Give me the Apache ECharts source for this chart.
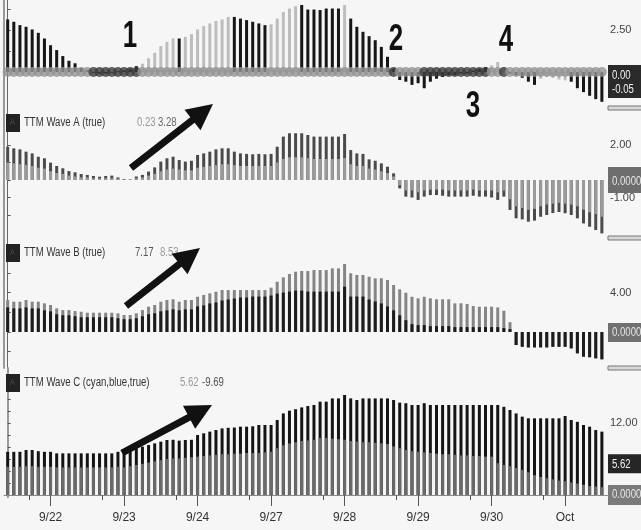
<!DOCTYPE html>
<html><head><meta charset="utf-8">
<script src="https://cdn.jsdelivr.net/npm/echarts@6/dist/echarts.min.js"></script>
<style>html,body{margin:0;padding:0;background:#f6f6f6}#c{width:641px;height:530px}</style>
</head><body><div id="c"></div><script>
// ---------- data ----------
const dayStartBars = [7, 19, 31, 43, 55, 67, 79, 91];
const dayLabels = ['9/22', '9/23', '9/24', '9/27', '9/28', '9/29', '9/30', 'Oct'];
const sessionMinorBars = [3.5, 15.5, 27.5, 39.5, 51.5, 63.5, 75.5, 87.5];

// Squeeze panel: momentum histogram, shade (1 = dark, 0 = light), squeeze dots (1 = squeeze on)
const squeezeMom = [3.14,3.0,2.8,2.7,2.54,2.34,2.0,1.6,1.31,0.95,
  0.67,0.52,0.25,0.1,-0.05,-0.1,-0.1,-0.05,0.05,0.1,
  0.2,0.35,0.5,0.82,1.15,1.55,1.8,2.0,2.0,2.1,
  2.26,2.54,2.74,2.9,3.05,3.14,3.29,3.29,3.19,3.1,
  3.0,2.9,2.8,2.85,3.19,3.59,3.79,3.93,4.0,3.73,
  3.73,3.7,3.79,3.79,3.79,4.0,3.19,2.7,2.4,2.14,
  1.9,1.5,0.91,0.2,-0.48,-0.58,-0.77,-0.67,-0.97,-0.58,
  -0.4,-0.3,-0.2,-0.2,-0.1,-0.1,0.1,0.2,0.3,0.4,
  0.6,0.3,-0.1,-0.2,-0.35,-0.58,-0.77,-0.4,-0.3,-0.35,
  -0.45,-0.5,-0.58,-0.97,-1.2,-1.42,-1.62,-1.78];
const squeezeShade = [1,1,1,1,1,1,1,1,1,1, 1,1,1,1,1,1,1,1,1,1,
  1,1,0,0,0,0,0,0,1,0, 0,0,0,0,0,0,0,1,1,1,
  1,1,1,0,0,0,0,0,1,1, 1,1,1,1,1,0,1,1,1,1,
  1,1,1,1,1,1,1,1,1,1, 1,1,1,1,1,1,1,1,1,0,
  0,0,1,1,1,1,1,0,0,0, 0,0,1,1,1,1,1,1];
const squeezeOn = [0,0,0,0,0,0,0,0,0,0, 0,0,0,0,1,1,1,1,1,1,
  1,1,0,0,0,0,0,0,0,0, 0,0,0,0,0,0,0,0,0,0,
  0,0,0,0,0,0,0,0,0,0, 0,0,0,0,0,0,0,0,0,0,
  0,0,0,1,0,0,0,0,1,1, 1,1,1,1,1,1,1,1,1,0,
  0,1,0,0,0,0,0,0,0,0, 0,0,0,0,0,0,0,0];

const waveAOuter = [1.9,1.81,1.75,1.62,1.52,1.33,1.24,0.99,0.8,0.67,
  0.51,0.44,0.34,0.29,0.23,0.19,0.23,0.25,0.15,0.05,
  0.03,0.2,0.29,0.48,0.72,1.05,1.24,1.33,1.14,1.05,
  1.1,1.43,1.52,1.62,1.75,1.81,1.81,1.62,1.52,1.49,
  1.47,1.49,1.47,1.49,1.9,2.48,2.67,2.67,2.67,2.57,
  2.48,2.48,2.48,2.48,2.48,2.63,1.71,1.52,1.49,1.18,
  1.1,0.95,0.76,0.38,-0.48,-0.95,-1.0,-1.14,-0.95,-0.86,
  -0.86,-0.9,-0.95,-0.95,-0.95,-0.95,-0.9,-0.95,-0.95,-1.0,
  -1.14,-0.95,-1.71,-2.19,-2.25,-2.38,-2.32,-2.1,-2.0,-1.89,
  -1.83,-1.9,-2.0,-2.19,-2.48,-2.67,-2.86,-3.05];
const waveAInner = [1.0,0.95,0.9,0.85,0.8,0.7,0.65,0.5,0.4,0.35,
  0.25,0.2,0.15,0.15,0.1,0.1,0.1,0.1,0.08,0.03,
  0.02,0.1,0.15,0.25,0.35,0.5,0.6,0.65,0.6,0.55,
  0.55,0.7,0.75,0.8,0.85,0.9,0.9,0.85,0.8,0.8,
  0.8,0.8,0.8,0.8,1.0,1.2,1.3,1.3,1.3,1.25,
  1.2,1.2,1.2,1.2,1.2,1.25,0.9,0.8,0.8,0.65,
  0.6,0.5,0.4,0.2,-0.3,-0.6,-0.6,-0.7,-0.6,-0.55,
  -0.55,-0.55,-0.6,-0.6,-0.6,-0.6,-0.55,-0.6,-0.6,-0.6,
  -0.7,-0.6,-1.1,-1.5,-1.6,-1.7,-1.65,-1.5,-1.4,-1.35,
  -1.3,-1.35,-1.4,-1.5,-1.7,-1.85,-1.95,-2.1];

const waveBOuter = [3.25,3.08,3.08,3.25,3.08,3.08,2.91,2.74,2.4,2.23,
  2.23,2.13,2.06,1.96,1.96,1.96,1.96,1.96,1.9,1.73,
  1.73,1.9,2.23,2.57,2.74,3.08,3.25,3.32,3.08,3.25,
  3.25,3.58,3.76,3.93,4.09,4.26,4.26,4.26,4.26,4.26,
  4.26,4.26,4.26,4.5,5.1,5.55,5.89,6.12,6.19,6.19,
  6.29,6.29,6.29,6.46,6.46,6.9,5.96,5.79,5.79,5.61,
  5.45,5.45,5.28,4.77,4.33,3.99,3.58,3.42,3.58,3.42,
  3.32,3.32,3.32,2.91,2.91,2.85,2.64,2.57,2.57,2.57,
  2.5,2.16,1.0,-1.32,-1.5,-1.56,-1.56,-1.56,-1.56,-1.5,
  -1.5,-1.5,-1.66,-2.16,-2.5,-2.56,-2.67,-2.77];
const waveBInner = [2.5,2.4,2.4,2.5,2.4,2.4,2.2,2.1,1.8,1.7,
  1.7,1.6,1.5,1.5,1.5,1.5,1.5,1.5,1.4,1.3,
  1.3,1.4,1.6,1.8,1.9,2.1,2.2,2.3,2.2,2.3,
  2.3,2.6,2.7,2.9,3.0,3.2,3.3,3.4,3.5,3.5,
  3.6,3.6,3.6,3.7,3.9,4.0,4.1,4.2,4.2,4.1,
  4.1,4.1,4.1,4.1,4.1,4.6,3.6,3.6,3.6,3.3,
  3.1,2.9,2.6,2.2,1.7,1.2,0.8,0.7,0.7,0.6,
  0.6,0.6,0.6,0.5,0.5,0.5,0.5,0.5,0.5,0.5,
  0.5,0.4,0.3,-1.32,-1.5,-1.56,-1.56,-1.56,-1.56,-1.5,
  -1.5,-1.5,-1.66,-2.16,-2.5,-2.56,-2.67,-2.77];

const waveCOuter = [7.2,7.2,7.2,7.5,7.5,7.3,7.2,7.2,6.94,6.94,
  6.94,6.94,6.94,6.94,6.94,6.94,6.94,6.94,7.2,6.94,
  7.5,7.78,8.06,8.33,8.61,8.89,9.17,9.2,9.06,9.17,
  9.2,10.0,10.28,10.56,10.83,11.1,11.2,11.25,11.39,11.39,
  11.45,11.67,11.67,11.67,12.5,13.6,14.06,14.3,14.6,14.83,
  15.0,15.56,15.56,16.1,16.1,16.67,16.1,15.83,16.1,16.1,
  16.1,16.1,16.1,15.83,15.4,15.3,15.0,15.0,15.3,15.0,
  15.0,15.0,15.0,15.0,15.0,15.0,15.0,15.0,15.0,15.0,
  15.0,14.7,14.17,13.6,13.06,12.78,12.78,12.78,12.78,12.78,
  12.78,13.17,12.5,12.2,11.67,11.39,10.83,10.56];
const waveCInner = [4.7,4.7,4.7,4.8,4.8,4.7,4.7,4.7,4.6,4.6,
  4.6,4.6,4.6,4.6,4.6,4.6,4.6,4.6,4.7,4.6,
  4.8,5.0,5.2,5.4,5.6,5.8,6.0,6.1,6.1,6.2,
  6.3,6.4,6.5,6.6,6.7,6.8,6.8,6.9,6.9,7.0,
  7.0,7.0,7.1,7.2,7.8,8.3,8.6,8.8,9.0,9.1,
  9.2,9.5,9.5,9.4,9.3,9.2,9.0,8.9,8.8,8.8,
  8.7,8.6,8.5,8.1,7.8,7.5,7.3,7.2,7.1,7.0,
  6.9,6.8,6.8,6.7,6.6,6.6,6.5,6.5,6.4,6.4,
  5.3,5.0,4.8,4.5,4.2,3.8,3.3,3.0,2.8,2.6,
  2.4,2.3,2.1,1.9,1.7,1.5,1.4,1.3];

const waveTitles = ['TTM Wave A (true)', 'TTM Wave B (true)', 'TTM Wave C (cyan,blue,true)'];
const waveReadouts = [['0.23', '3.28'], ['7.17', '8.53'], ['5.62', '-9.69']];
const squeezeBoxTexts = ['0.00', '-0.05'];
const waveCLastLabel = 5.62;
const eventMarks = ['1', '2', '3', '4'];

// ---------- chart ----------
const FONT = '"Liberation Sans",Arial,sans-serif';
const NARROW = 0.8;
const pts = arr => arr.map((v, i) => [i, v]);
const chart = echarts.init(document.getElementById('c'), null, {renderer: 'canvas'});

const grids = [
  {left: 4, width: 604, top: 0, height: 108},
  {left: 4, width: 604, top: 108, height: 130},
  {left: 4, width: 604, top: 238, height: 130},
  {left: 4, width: 604, top: 368, height: 129}
];
const yCfg = [
  {min: -2.15, max: 4.3, ticks: [1.25, 2.5, 3.75], labels: [2.5]},
  {min: -3.314, max: 4.114, ticks: [-2, -1, 0, 1, 2], labels: [2, -1]},
  {min: -3.65, max: 9.54, ticks: [-2, 0, 2, 4, 6, 8], labels: [4]},
  {min: -0.333, max: 21.17, ticks: [2, 4, 6, 8, 10, 12, 14, 16], labels: [12]}
];

const xAxes = grids.map((g, gi) => ({
  type: 'value', gridIndex: gi, min: -0.6, max: 98.0, show: gi === 3,
  position: 'bottom',
  splitLine: {show: false},
  axisLine: {show: true, lineStyle: {color: '#8a8a8a', width: 1}},
  axisTick: {show: true, customValues: dayStartBars, length: 11, lineStyle: {color: '#555'}},
  axisLabel: {show: true, customValues: dayStartBars, margin: 15, fontFamily: FONT, fontSize: 12, color: '#333',
    formatter: v => dayLabels[dayStartBars.indexOf(v)] || ''}
}));
xAxes.push({
  type: 'value', gridIndex: 3, min: -0.6, max: 98.0, position: 'bottom', offset: 0,
  splitLine: {show: false}, axisLine: {show: false},
  axisTick: {show: true, customValues: sessionMinorBars, length: 5, lineStyle: {color: '#555'}},
  axisLabel: {show: false}
});

const yAxes = yCfg.map((c, gi) => ({
  type: 'value', gridIndex: gi, position: 'right', min: c.min, max: c.max,
  splitLine: {show: false},
  axisLine: {show: true, lineStyle: {color: '#666', width: 1}},
  axisTick: {show: true, customValues: c.ticks, length: 3, lineStyle: {color: '#555'}},
  axisLabel: {show: true, customValues: c.labels, margin: 2, fontFamily: FONT, fontSize: 11, color: '#444',
    formatter: v => v.toFixed(2)}
})).concat(yCfg.map((c, gi) => ({
  type: 'value', gridIndex: gi, position: 'left', min: c.min, max: c.max,
  splitLine: {show: false}, axisTick: {show: false}, axisLabel: {show: false},
  axisLine: {show: true, lineStyle: {color: '#9a9a9a', width: 2}}
})));

const barBase = {type: 'bar', barWidth: 3, barGap: '-100%', animation: false, silent: true};
const series = [
  Object.assign({}, barBase, {xAxisIndex: 0, yAxisIndex: 0, data: pts(squeezeMom), z: 2,
    itemStyle: {color: p => squeezeShade[p.dataIndex] ? '#161616' : '#bdbdbd'}}),
  {type: 'scatter', xAxisIndex: 0, yAxisIndex: 0, data: squeezeOn.map((s, i) => [i, 0]), z: 4,
    symbol: 'circle', symbolSize: 10, animation: false, silent: true,
    itemStyle: {color: p => squeezeOn[p.dataIndex] ? '#3c3c3c' : '#939393'}},
  Object.assign({}, barBase, {xAxisIndex: 1, yAxisIndex: 1, data: pts(waveAOuter), itemStyle: {color: '#4a4a4a'}}),
  Object.assign({}, barBase, {xAxisIndex: 1, yAxisIndex: 1, data: pts(waveAInner), itemStyle: {color: '#9a9a9a'}}),
  Object.assign({}, barBase, {xAxisIndex: 2, yAxisIndex: 2, data: pts(waveBOuter), itemStyle: {color: '#858585'}}),
  Object.assign({}, barBase, {xAxisIndex: 2, yAxisIndex: 2, data: pts(waveBInner), itemStyle: {color: '#1c1c1c'}}),
  Object.assign({}, barBase, {xAxisIndex: 3, yAxisIndex: 3, data: pts(waveCOuter), itemStyle: {color: '#141414'}}),
  Object.assign({}, barBase, {xAxisIndex: 3, yAxisIndex: 3, data: pts(waveCInner), itemStyle: {color: '#6a6a6a'}})
];

chart.setOption({
  backgroundColor: '#f6f6f6',
  animation: false,
  grid: grids,
  xAxis: xAxes,
  yAxis: yAxes,
  series: series
});

// ---------- overlays: value boxes, legends, annotations ----------
const yPx = (axis, v) => chart.convertToPixel({yAxisIndex: axis}, v);
const g = [];
function txt(x, y, text, fill, font, extra) {
  g.push(Object.assign({type: 'text', z: 51, x: x, y: y, scaleX: NARROW,
    style: {text: text, fill: fill, font: font, textVerticalAlign: 'middle'}}, extra || {}));
}
function box(y0, h, fill, lines, txtColor, lineGap) {
  g.push({type: 'rect', z: 50, shape: {x: 608, y: y0, width: 34, height: h}, style: {fill: fill}});
  lines.forEach((t, k) => txt(612, y0 + lineGap[k], t, txtColor, '12px ' + FONT));
}
const z0 = yPx(0, 0), z1 = yPx(1, 0), z2 = yPx(2, 0), z3 = yPx(3, 0), c5 = yPx(3, waveCLastLabel);
box(z0 - 7, 33, '#2a2a2a', squeezeBoxTexts, '#f2f2f2', [11, 25]);
box(z1 - 13, 26, '#6e6e6e', ['0.0000'], '#e6e6e6', [15]);
box(z2 - 9, 19, '#707070', ['0.0000'], '#e6e6e6', [10]);
box(c5 - 7, 19, '#262626', [waveCLastLabel.toFixed(2)], '#f0f0f0', [10]);
box(z3 - 10, 20, '#7a7a7a', ['0.0000'], '#e6e6e6', [10]);

// panel separators on the price-scale strip
[108, 238, 368].forEach(y => g.push({type: 'rect', z: 52, shape: {x: 608, y: y - 2, width: 34, height: 4},
  style: {fill: '#d8d8d8', stroke: '#777', lineWidth: 1}}));

// wave legends
const legendY = [123, 253, 383];
const readX = [[137, 158], [135, 160], [180, 202]];
const readCol = [['#9a9a9a', '#6a6a6a'], ['#555', '#9a9a9a'], ['#9a9a9a', '#555']];
waveTitles.forEach((t, k) => {
  const y = legendY[k];
  g.push({type: 'rect', z: 40, shape: {x: 6, y: y - 9, width: 14, height: 18}, style: {fill: '#222'}});
  txt(10, y, 'A', '#555', '9px ' + FONT, {z: 41});
  txt(24, y, t, '#333', '12px ' + FONT, {z: 40});
  waveReadouts[k].forEach((r, j) => txt(readX[k][j], y, r, readCol[k][j], '12px ' + FONT, {z: 40}));
});

// event numbers
const markPos = [[130, 37], [396, 40], [473, 107], [506, 41]];
eventMarks.forEach((t, k) => g.push({type: 'text', z: 60, x: markPos[k][0], y: markPos[k][1], scaleX: 0.72,
  style: {text: t, fill: '#111', font: 'bold 36px ' + FONT, textAlign: 'center', textVerticalAlign: 'middle'}}));

// arrows
function arrow(x1, y1, x2, y2) {
  const dx = x2 - x1, dy = y2 - y1, L = Math.hypot(dx, dy), ux = dx / L, uy = dy / L;
  const hl = 26, hw = 13, bx = x2 - ux * hl, by = y2 - uy * hl;
  g.push({type: 'line', z: 60, shape: {x1: x1, y1: y1, x2: bx + ux * 2, y2: by + uy * 2},
    style: {stroke: '#111', lineWidth: 7, lineCap: 'butt'}});
  g.push({type: 'polygon', z: 60, shape: {points: [[x2, y2], [bx - uy * hw, by + ux * hw], [bx + uy * hw, by - ux * hw]]},
    style: {fill: '#111'}});
}
arrow(131, 168, 213, 104);
arrow(126, 306, 200, 248);
arrow(122, 453, 212, 405);

chart.setOption({graphic: g});
</script></body></html>
